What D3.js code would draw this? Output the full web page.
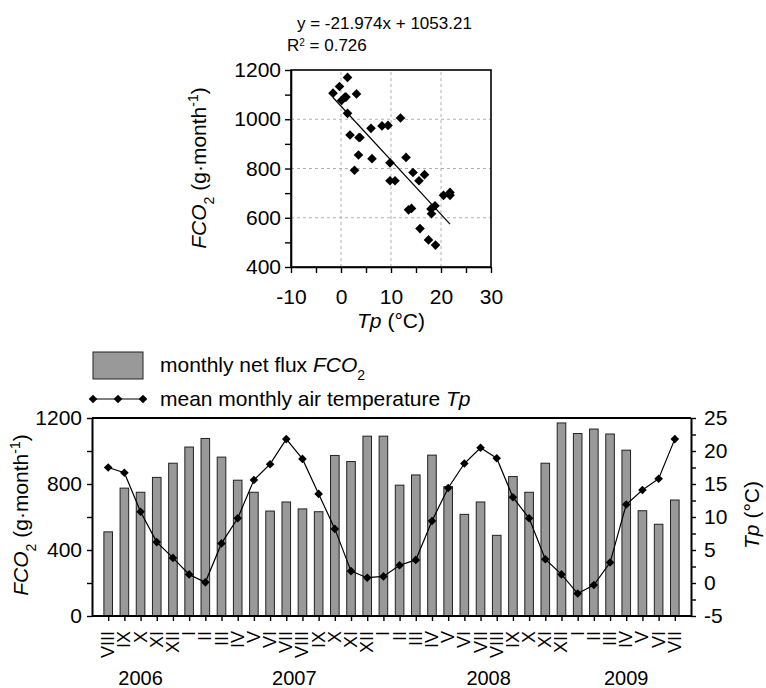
<!DOCTYPE html>
<html lang="en">
<head>
<meta charset="utf-8">
<title>FCO2 and air temperature</title>
<script src="https://cdn.jsdelivr.net/npm/d3@7"></script>
<style>
    body { margin: 0; background: #fff; }
    svg { display: block; background: #fff; }
    text { font-family: "Liberation Sans", Arial, sans-serif; fill: #000; }
</style>
</head>
<body>
<div id="chart"></div>
<script>
"use strict";

// months Aug 2006 .. Jul 2009
var monthLabels = ["VIII","IX","X","XI","XII",
    "I","II","III","IV","V","VI","VII","VIII","IX","X","XI","XII",
    "I","II","III","IV","V","VI","VII","VIII","IX","X","XI","XII",
    "I","II","III","IV","V","VI","VII"];
// monthly net flux FCO2 (g month-1)
var fluxValues = [510, 775, 750, 840, 926, 1024, 1076,
    963, 823, 750, 636, 691, 649, 632, 973, 936, 1090,
    1090, 793, 855, 975, 784, 616, 691, 489, 845, 750, 926, 1170,
    1106, 1133, 1103, 1005, 638, 556, 703];
// mean monthly air temperature Tp (degC)
var tempValues = [17.5, 16.7, 10.8, 6.2, 3.8, 1.3, 0.1,
    6.0, 9.8, 15.6, 18.0, 21.8, 18.8, 13.5, 8.2, 1.8, 0.8,
    1.0, 2.7, 3.5, 9.4, 14.4, 18.1, 20.5, 18.9, 13.0, 9.8, 3.6, 1.3,
    -1.6, -0.3, 3.1, 11.9, 14.1, 15.8, 21.8];
var yearLabels = ["2006", "2007", "2008", "2009"];
var yearAt = [2, 11.5, 23.5, 32];          // month index under each year label
var regSlope = -21.974;
var regIntercept = 1053.21;
var regR2 = 0.726;

var scatterXTicks = [-10, 0, 10, 20, 30];
var scatterYTicks = [400, 600, 800, 1000, 1200];
var fluxTicks = [0, 400, 800, 1200];
var tempTicks = [-5, 0, 5, 10, 15, 20, 25];

var W = 766, H = 688;
var svg = d3.select("#chart").append("svg")
    .attr("width", W).attr("height", H);

function diamond(r) {
    return "M0," + (-r) + "L" + r + ",0L0," + r + "L" + (-r) + ",0Z";
}
function styleAxis(g, size) {
    g.selectAll("path.domain").attr("stroke", "#000").attr("stroke-width", 1.6);
    g.selectAll(".tick line").attr("stroke", "#000").attr("stroke-width", 1.4);
    g.selectAll(".tick text").style("font-family", "'Liberation Sans', Arial, sans-serif")
        .style("font-size", size + "px").attr("fill", "#000");
}

// ---------- scatter plot ----------
var sx = d3.scaleLinear().domain([-10, 30]).range([291, 491]);
var sy = d3.scaleLinear().domain([400, 1200]).range([267, 70]);
var scat = svg.append("g");

// dashed grid
scat.selectAll("line.vgrid").data([0, 10, 20]).enter().append("line")
    .attr("x1", d => sx(d)).attr("x2", d => sx(d))
    .attr("y1", sy(400)).attr("y2", sy(1200))
    .attr("stroke", "#b0b0b0").attr("stroke-dasharray", "3,3");
scat.selectAll("line.hgrid").data([600, 800, 1000]).enter().append("line")
    .attr("x1", sx(-10)).attr("x2", sx(30))
    .attr("y1", d => sy(d)).attr("y2", d => sy(d))
    .attr("stroke", "#b0b0b0").attr("stroke-dasharray", "3,3");

scat.append("rect")
    .attr("x", sx(-10)).attr("y", sy(1200))
    .attr("width", sx(30) - sx(-10)).attr("height", sy(400) - sy(1200))
    .attr("fill", "none").attr("stroke", "#000").attr("stroke-width", 1.6);

var gsx = scat.append("g").attr("transform", "translate(0," + sy(400) + ")")
    .call(d3.axisBottom(sx).tickValues(d3.range(-10, 31, 5)).tickSize(6).tickSizeOuter(0)
        .tickFormat(d => scatterXTicks.indexOf(d) >= 0 ? d : "").tickPadding(16));
styleAxis(gsx, 21);
var gsy = scat.append("g").attr("transform", "translate(" + sx(-10) + ",0)")
    .call(d3.axisLeft(sy).tickValues(d3.range(400, 1201, 100)).tickSize(6).tickSizeOuter(0)
        .tickFormat(d => scatterYTicks.indexOf(d) >= 0 ? d : "").tickPadding(4));
styleAxis(gsy, 21);

// regression line
var tExt = d3.extent(tempValues);
scat.append("line")
    .attr("x1", sx(tExt[0])).attr("y1", sy(regSlope * tExt[0] + regIntercept))
    .attr("x2", sx(tExt[1])).attr("y2", sy(regSlope * tExt[1] + regIntercept))
    .attr("stroke", "#000").attr("stroke-width", 1.2);

scat.selectAll("path.pt").data(fluxValues).enter().append("path")
    .attr("d", diamond(4.8))
    .attr("transform", (d, i) => "translate(" + sx(tempValues[i]) + "," + sy(d) + ")")
    .attr("fill", "#000");

scat.append("text").attr("x", 297).attr("y", 29).style("font-size", "17px")
    .text("y = " + regSlope + "x + " + regIntercept);
var r2 = scat.append("text").attr("x", 287).attr("y", 51).style("font-size", "17px");
r2.append("tspan").text("R");
r2.append("tspan").attr("dy", -5).style("font-size", "10px").text("2");
r2.append("tspan").attr("dy", 5).text(" = " + regR2);

function fcoLabel(sel) {
    sel.append("tspan").style("font-style", "italic").text("FCO");
    sel.append("tspan").attr("baseline-shift", "sub").style("font-size", "14px").text("2");
    sel.append("tspan").text(" (g\u00b7month");
    sel.append("tspan").attr("baseline-shift", "super").style("font-size", "14px").text("-1");
    sel.append("tspan").text(")");
}
var sYl = scat.append("text").attr("text-anchor", "middle").style("font-size", "21px")
    .attr("transform", "translate(206,168) rotate(-90)");
fcoLabel(sYl);
var sXl = scat.append("text").attr("text-anchor", "middle").style("font-size", "21px")
    .attr("x", 391).attr("y", 328);
sXl.append("tspan").style("font-style", "italic").text("Tp");
sXl.append("tspan").text(" (\u00b0C)");

// ---------- bar + line chart ----------
var bx = d3.scalePoint().domain(d3.range(fluxValues.length)).range([92, 691]).padding(1);
var by = d3.scaleLinear().domain([0, 1200]).range([616, 418]);
var bt = d3.scaleLinear().domain([-5, 25]).range([616, 418]);
var idx = d3.scaleLinear().domain([0, fluxValues.length - 1]).range([bx(0), bx(fluxValues.length - 1)]);
var bot = svg.append("g");
var barW = 8.6;

bot.selectAll("rect.bar").data(fluxValues).enter().append("rect")
    .attr("x", (d, i) => bx(i) - barW / 2).attr("y", d => by(d))
    .attr("width", barW).attr("height", d => by(0) - by(d))
    .attr("fill", "#999999").attr("stroke", "#222").attr("stroke-width", 1);

bot.append("path").datum(tempValues)
    .attr("d", d3.line().x((d, i) => bx(i)).y(d => bt(d)))
    .attr("fill", "none").attr("stroke", "#000").attr("stroke-width", 1.2);
bot.selectAll("path.tp").data(tempValues).enter().append("path")
    .attr("d", diamond(4.3))
    .attr("transform", (d, i) => "translate(" + bx(i) + "," + bt(d) + ")")
    .attr("fill", "#000");

bot.append("line").attr("x1", 92).attr("x2", 691).attr("y1", 418).attr("y2", 418)
    .attr("stroke", "#000").attr("stroke-width", 2);

var gbx = bot.append("g").attr("transform", "translate(0," + by(0) + ")")
    .call(d3.axisBottom(bx).tickSize(5).tickSizeOuter(0).tickFormat(""));
styleAxis(gbx, 21);
gbx.select("path.domain").attr("d", "M92,0H691").attr("stroke-width", 2);
var gby = bot.append("g").attr("transform", "translate(92,0)")
    .call(d3.axisLeft(by).tickValues(d3.range(0, 1201, 200)).tickSize(5).tickSizeOuter(0)
        .tickFormat(d => fluxTicks.indexOf(d) >= 0 ? d : "").tickPadding(5));
styleAxis(gby, 21);
gby.select("path.domain").attr("stroke-width", 2);
var gbt = bot.append("g").attr("transform", "translate(691,0)")
    .call(d3.axisRight(bt).tickValues(d3.range(-5, 25.1, 2.5)).tickSize(5).tickSizeOuter(0)
        .tickFormat(d => tempTicks.indexOf(d) >= 0 ? d : "").tickPadding(8));
styleAxis(gbt, 21);
gbt.select("path.domain").attr("stroke-width", 2);

bot.selectAll("text.month").data(monthLabels).enter().append("text")
    .attr("transform", (d, i) => "translate(" + bx(i) + ",631) rotate(-90)")
    .attr("text-anchor", "end").attr("dominant-baseline", "central")
    .style("font-size", "18px").text(d => d);
bot.selectAll("text.year").data(yearLabels).enter().append("text")
    .attr("x", (d, i) => idx(yearAt[i])).attr("y", 685)
    .attr("text-anchor", "middle").style("font-size", "20px").text(d => d);

var bYl = bot.append("text").attr("text-anchor", "middle").style("font-size", "21px")
    .attr("transform", "translate(28,515) rotate(-90)");
fcoLabel(bYl);
var bTl = bot.append("text").attr("text-anchor", "middle").style("font-size", "21px")
    .attr("transform", "translate(759,515) rotate(-90)");
bTl.append("tspan").style("font-style", "italic").text("Tp");
bTl.append("tspan").text(" (\u00b0C)");

// legend
var leg = svg.append("g");
leg.append("rect").attr("x", 93).attr("y", 352).attr("width", 50).attr("height", 27)
    .attr("fill", "#999999").attr("stroke", "#222").attr("stroke-width", 1);
var l1 = leg.append("text").attr("x", 160).attr("y", 372).style("font-size", "21px");
l1.append("tspan").text("monthly net flux ");
l1.append("tspan").style("font-style", "italic").text("FCO");
l1.append("tspan").attr("baseline-shift", "sub").style("font-size", "14px").text("2");
leg.append("line").attr("x1", 93).attr("x2", 143).attr("y1", 399).attr("y2", 399)
    .attr("stroke", "#000").attr("stroke-width", 1.2);
leg.selectAll("path.lm").data([93, 118, 143]).enter().append("path")
    .attr("d", diamond(4.3)).attr("transform", d => "translate(" + d + ",399)");
var l2 = leg.append("text").attr("x", 160).attr("y", 406).style("font-size", "21px");
l2.append("tspan").text("mean monthly air temperature ");
l2.append("tspan").style("font-style", "italic").text("Tp");
</script>
</body>
</html>
